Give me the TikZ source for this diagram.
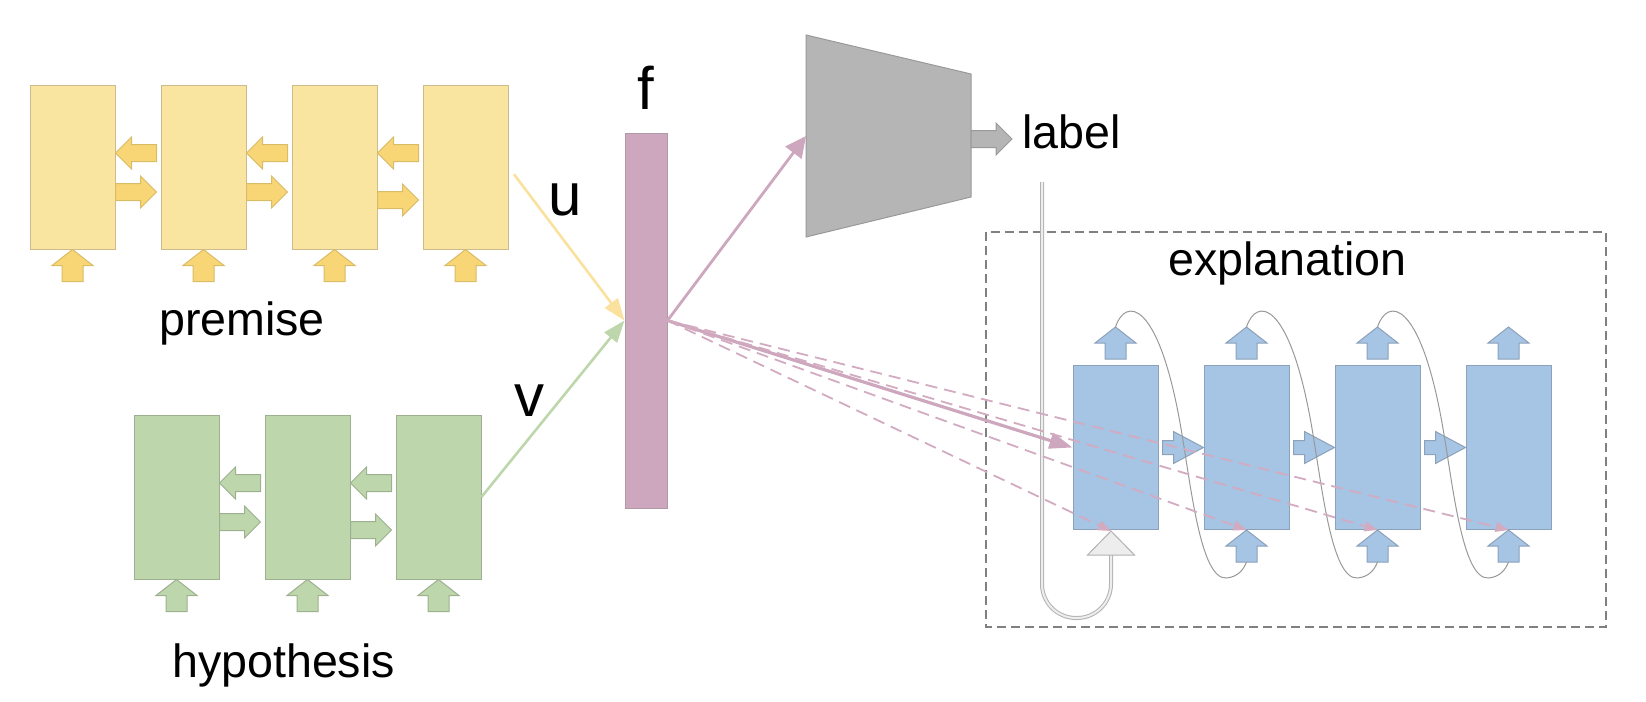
\documentclass[tikz,border=0pt]{standalone}
\usepackage{fontspec}
\setmainfont{Liberation Sans}
\usetikzlibrary{arrows.meta,positioning,calc}

\definecolor{yfill}{HTML}{F9E4A0}
\definecolor{ydraw}{HTML}{CDBB8C}
\definecolor{yarr}{HTML}{F8D676}
\definecolor{yarrline}{HTML}{D9BC66}
\definecolor{yline}{HTML}{FAE29E}
\definecolor{gfill}{HTML}{BDD6AC}
\definecolor{gdraw}{HTML}{9DB08F}
\definecolor{bfill}{HTML}{A6C4E3}
\definecolor{bdraw}{HTML}{8CA1BA}
\definecolor{fpink}{HTML}{CDA7BD}
\definecolor{fdraw}{HTML}{B09AA8}
\definecolor{fdashc}{HTML}{D3ABC1}
\definecolor{clsgrey}{HTML}{B5B5B5}

\begin{document}
\begin{tikzpicture}[
  x=0.5pt, y=-0.5pt,
  font=\fontsize{23.3pt}{28pt}\selectfont,
  big/.style={font=\fontsize{30pt}{36pt}\selectfont},
  txt/.style={inner sep=0pt,anchor=base},
  cell/.style={minimum width=42.5pt,minimum height=82pt,inner sep=0pt,line width=0.5pt},
  pbox/.style={cell,fill=yfill,draw=ydraw},
  hbox/.style={cell,fill=gfill,draw=gdraw},
  ebox/.style={cell,fill=bfill,draw=bdraw},
  parr/.style={fill=yarr,draw=yarrline,line width=0.5pt},
  harr/.style={fill=gfill,draw=gdraw,line width=0.5pt},
  earr/.style={fill=bfill,draw=bdraw,line width=0.5pt},
  clsarr/.style={fill=clsgrey,draw=black!40,line width=0.5pt},
  uparr/.pic={\path[pic actions] (0,0) -- (20.5,16) -- (10.5,16) -- (10.5,32) -- (-10.5,32) -- (-10.5,16) -- (-20.5,16) -- cycle;},
  rtarr/.pic={\path[pic actions] (0,0) -- (-16,16) -- (-16,8.5) -- (-41,8.5) -- (-41,-8.5) -- (-16,-8.5) -- (-16,-16) -- cycle;},
  ltarr/.pic={\path[pic actions] (0,0) -- (16,16) -- (16,8.5) -- (41,8.5) -- (41,-8.5) -- (16,-8.5) -- (16,-16) -- cycle;},
  brtarr/.pic={\path[pic actions] (0,0) -- (-30,16) -- (-30,7) -- (-41,7) -- (-41,-7) -- (-30,-7) -- (-30,-16) -- cycle;},
  fbar/.style={minimum width=21pt,minimum height=187.5pt,inner sep=0pt,fill=fpink,draw=fdraw,line width=0.5pt},
  cls/.style={fill=clsgrey,draw=black!40,line width=0.5pt},
  expbox/.style={draw=black!50,line width=0.75pt,dash pattern=on 4.5pt off 2.5pt},
  recur/.style={draw=black!40,line width=0.5pt},
  skipline/.style={draw=black!30,double=black!7,double distance=1pt,line width=0.5pt},
  skiphead/.style={fill=black!7,draw=black!30,line width=0.5pt},
  yconn/.style={yline,line width=1.3pt,-{Triangle[length=11pt,width=8pt]}},
  gconn/.style={gfill,line width=1.3pt,-{Triangle[length=11pt,width=8pt]}},
  fconn/.style={fpink,line width=1.4pt,-{Triangle[length=10.5pt,width=10pt]}},
  fthick/.style={fpink,line width=1.6pt,-{Triangle[length=11.5pt,width=8pt]}},
  fdash/.style={fdashc,line width=0.9pt,dash pattern=on 6pt off 3.5pt,-{Triangle[length=6.5pt,width=5pt]}}
]
\useasboundingbox (0,0) rectangle (1646,702);

% premise
\node[pbox] (p1) at (72.5,167) {};
\node[pbox,right=22.5pt of p1] (p2) {};
\node[pbox,right=22.5pt of p2] (p3) {};
\node[pbox,right=22.5pt of p3] (p4) {};
\foreach \i/\j/\dy in {1/2/25,2/3/25,3/4/33}{
  \pic[parr] at ($(p\i.east)+(0,-14)$) {ltarr};
  \pic[parr] at ($(p\j.west)+(-4,\dy)$) {rtarr};
}
\foreach \i in {1,...,4}
  \pic[parr] at (p\i.south) {uparr};
\node[txt] (prem) at (242,335) {premise};

% hypothesis
\node[hbox] (h1) at (176.5,497) {};
\node[hbox,right=22.5pt of h1] (h2) {};
\node[hbox,right=22.5pt of h2] (h3) {};
\foreach \i/\j/\dy in {1/2/25,2/3/33}{
  \pic[harr] at ($(h\i.east)+(0,-14)$) {ltarr};
  \pic[harr] at ($(h\j.west)+(-4,\dy)$) {rtarr};
}
\foreach \i in {1,...,3}
  \pic[harr] at (h\i.south) {uparr};
\node[txt] (hyp) at (283.5,677) {hypothesis};

% f
\node[fbar] (bar) at (646,320.5) {};
\node[big,inner sep=0pt,above=11.5pt of bar] (flbl) {f};
\node[txt,big] (ulbl) at (565,215) {u};
\node[txt,big] (vlbl) at (529,416) {v};

% classifier
\filldraw[cls] (806,35) -- (971,74) -- (971,197) -- (806,237) -- cycle;
\coordinate (clsin) at (806,136);
\coordinate (clsout) at (971,135.5);
\pic[clsarr] at ($(clsout)+(41,3.5)$) {rtarr};
\node[txt,anchor=base west] (lbl) at (1022,148) {label};

% explanation
\draw[expbox] (986,232) rectangle (1606,627);
\node[txt] (exptxt) at (1287.5,275) {explanation};
\node[ebox] (b1) at (1115.5,447.5) {};
\node[ebox,right=22.5pt of b1] (b2) {};
\node[ebox,right=22.5pt of b2] (b3) {};
\node[ebox,right=22.5pt of b3] (b4) {};
\foreach \i/\j in {1/2,2/3,3/4}
  \pic[earr] at (b\j.west) {brtarr};
\foreach \i in {1,...,4}
  \pic[earr] at ($(b\i.north)+(0,-38)$) {uparr};
\foreach \i in {2,3,4}
  \pic[earr] at (b\i.south) {uparr};
\foreach \i/\j in {1/2,2/3,3/4}{
  \coordinate (c\i) at ($(b\i.north)+(0,-38)$);
  \coordinate (d\j) at ($(b\j.south)+(0,32)$);
  \draw[recur] (c\i) .. controls +(10,-30) and +(-22,-120) .. ($(c\i)+(64,93)$)
    .. controls +(11,60) and +(-27,2) .. ($(c\i)+(111,251)$)
    .. controls +(11,-1) and +(-3,8) .. (d\j);
}

% label fed back
\coordinate (lblsrc) at (1042,182);
\coordinate (loopbot) at (0,618);
\coordinate (loopend) at ($(b1.south)+(-4.5,1)$);
\draw[skipline,rounded corners=17pt] (lblsrc) -- (lblsrc |- loopbot) -- (loopend |- loopbot) -- ($(loopend)+(0,24)$);
\filldraw[skiphead] (loopend) -- ++(23.5,24) -- ++(-47,0) -- cycle;

% connectors
\draw[yconn,shorten <=4.5pt] (p4.east) -- (bar.west);
\draw[gconn] (h3.east) -- (bar.west);
\draw[fconn] (bar.east) -- (clsin);
\draw[fthick] (bar.east) -- (b1.west);
\draw[fdash] (bar.east) -- (loopend);
\foreach \i in {2,3,4}
  \draw[fdash] (bar.east) -- (b\i.south);
\end{tikzpicture}
\end{document}
